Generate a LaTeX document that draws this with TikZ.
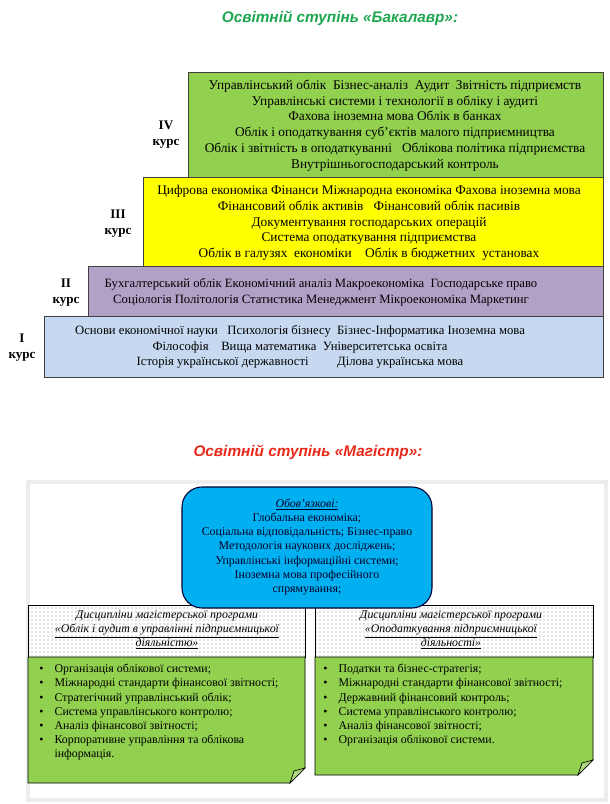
\documentclass[tikz,border=0pt]{standalone}
\usepackage{fontspec}
\setmainfont{Liberation Serif}
\newfontfamily\titlefont{Liberation Sans}
\usetikzlibrary{patterns}

\definecolor{ivgreen}{RGB}{146,208,80}
\definecolor{iiiyellow}{RGB}{255,255,0}
\definecolor{iipurple}{RGB}{178,161,199}
\definecolor{iblue}{RGB}{198,217,241}
\definecolor{mandblue}{RGB}{0,176,240}
\definecolor{foldgreen}{RGB}{178,218,125}
\definecolor{titlegreen}{RGB}{30,166,80}
\definecolor{titlered}{RGB}{232,40,24}

\newcommand{\bul}{\makebox[11.5pt][l]{\textbullet}}

\begin{document}
\begin{tikzpicture}[x=0.75pt, y=-0.75pt,
        title/.style={font=\titlefont\bfseries\itshape\fontsize{11.5}{13}\selectfont},
        course/.style={draw=black!75, line width=0.6pt},
        subjects/.style={align=center, inner sep=0pt, font=\fontsize{10}{11.8}\selectfont},
        lowsubjects/.style={subjects, font=\fontsize{9.5}{11.6}\selectfont},
        year/.style={align=center, inner sep=0pt, font=\bfseries\fontsize{9.8}{11.5}\selectfont},
        cardhead/.style={draw=black, line width=0.5pt, pattern=dots, pattern color=black!50},
        cardbody/.style={draw=black, line width=0.6pt, fill=ivgreen},
        fold/.style={draw=black, line width=0.5pt, fill=foldgreen},
        small/.style={inner sep=0pt, font=\fontsize{8.9}{10.6}\selectfont}]

    \useasboundingbox (0,0) rectangle (610,804);

    % bachelor
    \node[title, text=titlegreen] (bachtitle) at (340,18) {Освітній ступінь «Бакалавр»:};

    \draw[course, fill=iblue]    (44,316)  rectangle (603,377);
    \draw[course, fill=iipurple] (88,266)  rectangle (603,316);
    \draw[course, fill=iiiyellow](143,177) rectangle (603,266);
    \draw[course, fill=ivgreen]  (188,72)  rectangle (603,177);

    \node[subjects] (ivtext) at (395,125.5) {Управлінський облік\ \ Бізнес-аналіз\ \ Аудит\ \ Звітність підприємств\\
        Управлінські\ системи і технології\ в обліку і аудиті\\
        Фахова іноземна мова\ Облік\ в банках\\
        Облік і оподаткування суб’єктів малого підприємництва\\
        Облік і звітність\ в оподаткуванні\ \ \ Облікова\ політика\ підприємства\\
        Внутрішньогосподарський\ контроль};
    \node[subjects] (iiitext) at (369,223) {Цифрова економіка Фінанси Міжнародна\ економіка Фахова іноземна мова\\
        Фінансовий\ облік\ активів\ \ \ Фінансовий\ облік пасивів\\
        Документування господарських\ операцій\\
        Система\ оподаткування підприємства\\
        Облік\ в галузях\ \ економіки\ \ \ \ Облік\ в бюджетних\ \ установах};
    \node[lowsubjects] (iitext) at (321,292.5) {Бухгалтерський\ облік Економічний аналіз Макроекономіка\ \ Господарське право\\
        Соціологія Політологія Статистика\ Менеджмент Мікроекономіка\ Маркетинг};
    \node[lowsubjects] (itext) at (300,347) {Основи економічної науки\ \ \ Психологія\ бізнесу\ \ Бізнес-Інформатика Іноземна мова\\
        Філософія\ \ \ \ Вища математика\ \ Університетська\ освіта\\
        Історія української державності\ \ \ \ \ \ \ \ \ Ділова українська мова};

    \node[year] (ivyear)  at (166,134.5) {IV\\курс};
    \node[year] (iiiyear) at (118,223.5) {III\\курс};
    \node[year] (iiyear)  at (66,292.5)  {II\\курс};
    \node[year] (iyear)   at (22,347.5)  {I\\курс};

    % master
    \node[title, text=titlered] (magtitle) at (308,452) {Освітній ступінь «Магістр»:};

    \draw[black!7, line width=2.5pt] (28,482) rectangle (606,800);

    \draw[cardhead] (28,605) rectangle (305,657);
    \draw[cardbody] (28,657) -- (305,657) -- (305,768) -- (290,783) -- (28,783) -- cycle;
    \draw[fold] (290,783) -- (294,771) -- (305,768) -- cycle;

    \draw[cardhead] (315,605) rectangle (593,657);
    \draw[cardbody] (315,657) -- (593,657) -- (593,760) -- (578,775) -- (315,775) -- cycle;
    \draw[fold] (578,775) -- (582,763) -- (593,760) -- cycle;

    \draw[draw=black!80!blue, line width=0.8pt, fill=mandblue, rounded corners=15pt] (182,487) rectangle (432,608);
    \node[small, align=center, text=black!85!blue] (mandatory) at (307,547) {\textit{\underline{Обов’язкові:}}\\
        Глобальна економіка;\\
        Соціальна відповідальність;\ Бізнес-право\\
        Методологія наукових досліджень;\\
        Управлінські інформаційні\ системи;\\
        Іноземна мова професійного\\
        спрямування;};

    \node[small, align=center, font=\itshape\fontsize{8.9}{10.6}\selectfont] (auditname) at (167,630)
        {Дисципліни магістерської програми\\
        \underline{«Облік і аудит в управлінні\ підприємницької}\\
        \underline{діяльністю»}};
    \node[small, align=center, font=\itshape\fontsize{8.9}{10.6}\selectfont] (taxname) at (451,630)
        {Дисципліни магістерської програми\\
        \underline{«Оподаткування підприємницької}\\
        \underline{діяльності»}};

    \node[small, align=left, anchor=north west] (auditlist) at (39,664)
        {\bul Організація облікової системи;\\
        \bul Міжнародні стандарти\ фінансової звітності;\\
        \bul Стратегічний\ управлінський облік;\\
        \bul Система\ управлінського контролю;\\
        \bul Аналіз фінансової\ звітності;\\
        \bul Корпоративне управління та облікова\\
        \hspace*{11.5pt}інформація.};
    \node[small, align=left, anchor=north west] (taxlist) at (323,664)
        {\bul Податки\ та бізнес-стратегія;\\
        \bul Міжнародні стандарти\ фінансової звітності;\\
        \bul Державний фінансовий\ контроль;\\
        \bul Система\ управлінського контролю;\\
        \bul Аналіз фінансової\ звітності;\\
        \bul Організація облікової системи.};
\end{tikzpicture}
\end{document}
